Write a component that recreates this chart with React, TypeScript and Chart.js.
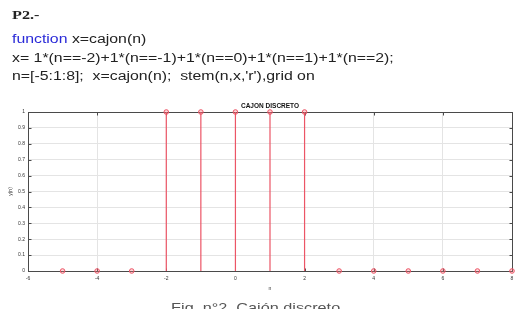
import React, { useEffect, useRef } from "react";
import { Chart, registerables } from "chart.js";

Chart.register(...registerables);

// ---- data ----
const nValues = [-5, -4, -3, -2, -1, 0, 1, 2, 3, 4, 5, 6, 7, 8];
const xValues = [0, 0, 0, 1, 1, 1, 1, 1, 0, 0, 0, 0, 0, 0];
const xMin = -6;
const xMax = 8;
const xStep = 2;
const yMin = 0;
const yMax = 1;
const yStep = 0.1;
const chartTitle = "CAJON DISCRETO";
const xLabel = "n";
const yLabel = "y(n)";
const heading = "P2.-";
const codeKeyword = "function";
const codeLine1 = " x=cajon(n)";
const codeLine2 = "x= 1*(n==-2)+1*(n==-1)+1*(n==0)+1*(n==1)+1*(n==2);";
const codeLine3 = "n=[-5:1:8];  x=cajon(n);  stem(n,x,'r'),grid on";
const caption = "Fig. n°2. Cajón discreto";

const FONT = "'Liberation Sans', Arial, sans-serif";
const RED = "#ec5566";

const framePlugin = {
  id: "frame",
  beforeDatasetsDraw(chart: any) {
    const { ctx, chartArea: a, scales } = chart;
    const L = Math.round(a.left) + 0.5;
    const R = Math.round(a.right) + 0.5;
    const T = Math.round(a.top) + 0.5;
    const B = Math.round(a.bottom) + 0.5;
    ctx.save();
    ctx.strokeStyle = "#4a4a4a";
    ctx.lineWidth = 1;
    ctx.strokeRect(L, T, R - L, B - T);
    ctx.beginPath();
    scales.x.ticks.forEach((t: any) => {
      const px = Math.round(scales.x.getPixelForValue(t.value)) + 0.5;
      ctx.moveTo(px, B);
      ctx.lineTo(px, B - 3);
      ctx.moveTo(px, T);
      ctx.lineTo(px, T + 3);
    });
    scales.y.ticks.forEach((t: any) => {
      const py = Math.round(scales.y.getPixelForValue(t.value)) + 0.5;
      ctx.moveTo(L, py);
      ctx.lineTo(L + 3, py);
      ctx.moveTo(R, py);
      ctx.lineTo(R - 3, py);
    });
    ctx.stroke();
    ctx.restore();
  },
};

export default function App() {
  const ref = useRef<HTMLCanvasElement>(null);

  useEffect(() => {
    if (!ref.current) return;
    const stemData: any[] = [];
    nValues.forEach((n, i) => {
      stemData.push({ x: n, y: 0 });
      stemData.push({ x: n, y: xValues[i] });
      stemData.push({ x: n, y: null });
    });
    const pointData = nValues.map((n, i) => ({ x: n, y: xValues[i] }));

    const chart = new Chart(ref.current, {
      type: "scatter",
      data: {
        datasets: [
          {
            data: stemData,
            showLine: true,
            spanGaps: false,
            borderColor: RED,
            borderWidth: 1.2,
            pointRadius: 0,
            clip: false as any,
          },
          {
            data: pointData,
            pointStyle: "circle",
            pointRadius: 2.3,
            pointBorderWidth: 1,
            pointBorderColor: RED,
            pointBackgroundColor: "rgba(255,120,130,0.3)",
            clip: false as any,
          },
        ],
      },
      options: {
        animation: false,
        responsive: false,
        maintainAspectRatio: false,
        layout: { padding: { left: 0, top: 100, right: 10, bottom: 17 } },
        plugins: {
          legend: { display: false },
          tooltip: { enabled: false },
          title: { display: false },
        },
        scales: {
          x: {
            type: "linear",
            position: "bottom",
            min: xMin,
            max: xMax,
            ticks: { stepSize: xStep, font: { size: 5, family: FONT }, color: "#333", padding: 5 },
            grid: { color: "#e4e4e4", drawTicks: false },
            border: { display: false },
            title: {
              display: true,
              text: xLabel,
              font: { size: 5, family: FONT },
              color: "#333",
              padding: { top: 0, bottom: 0 },
            },
            afterFit(s: any) {
              s.height = 21;
            },
          },
          x2: {
            type: "linear",
            position: "top",
            display: true,
            min: xMin,
            max: xMax,
            ticks: { display: false },
            grid: { display: false, drawTicks: false },
            border: { display: false },
            title: {
              display: true,
              text: chartTitle,
              font: { size: 6.5, weight: "bold", family: FONT },
              color: "#111",
              padding: { top: 2, bottom: 0 },
            },
            afterFit(s: any) {
              s.height = 12;
            },
          },
          y: {
            type: "linear",
            min: yMin,
            max: yMax,
            ticks: {
              stepSize: yStep,
              font: { size: 5, family: FONT },
              color: "#333",
              padding: 3,
              callback: (v: any) => String(Math.round(Number(v) * 10) / 10),
            },
            grid: { color: "#e4e4e4", drawTicks: false },
            border: { display: false },
            title: {
              display: true,
              text: yLabel,
              font: { size: 5, family: FONT },
              color: "#333",
              padding: { top: 8, bottom: 0 },
            },
            afterFit(s: any) {
              s.width = 28;
            },
          },
        } as any,
      },
      plugins: [framePlugin],
    });
    return () => chart.destroy();
  }, []);

  const lineStyle: React.CSSProperties = {
    position: "absolute",
    left: 12,
    fontFamily: FONT,
    fontSize: 12,
    lineHeight: "14px",
    whiteSpace: "pre",
    color: "#222",
    transform: "scaleX(1.32)",
    transformOrigin: "left center",
  };

  return (
    <div
      style={{
        position: "fixed",
        left: 0,
        top: 0,
        width: 522,
        height: 309,
        background: "#fff",
        overflow: "hidden",
      }}
    >
      <canvas ref={ref} width={522} height={309} style={{ display: "block", position: "absolute", left: 0, top: 0 }} />
      <div
        style={{
          ...lineStyle,
          top: 8,
          fontFamily: "'Liberation Serif', 'Times New Roman', serif",
          fontWeight: "bold",
          transform: "scaleX(1.35)",
        }}
      >
        {heading}
      </div>
      <div style={{ ...lineStyle, top: 31.5 }}>
        <span style={{ color: "#2a2ad8" }}>{codeKeyword}</span>
        {codeLine1}
      </div>
      <div style={{ ...lineStyle, top: 50.5 }}>{codeLine2}</div>
      <div style={{ ...lineStyle, top: 69 }}>{codeLine3}</div>
      <div
        style={{
          position: "absolute",
          left: 0,
          width: 522,
          top: 300,
          textAlign: "center",
          fontFamily: FONT,
          fontSize: 13,
          lineHeight: "15px",
          color: "#555",
          whiteSpace: "pre",
        }}
      >
        <span style={{ display: "inline-block", transform: "scaleX(1.25)", marginLeft: -10 }}>{caption}</span>
      </div>
    </div>
  );
}
